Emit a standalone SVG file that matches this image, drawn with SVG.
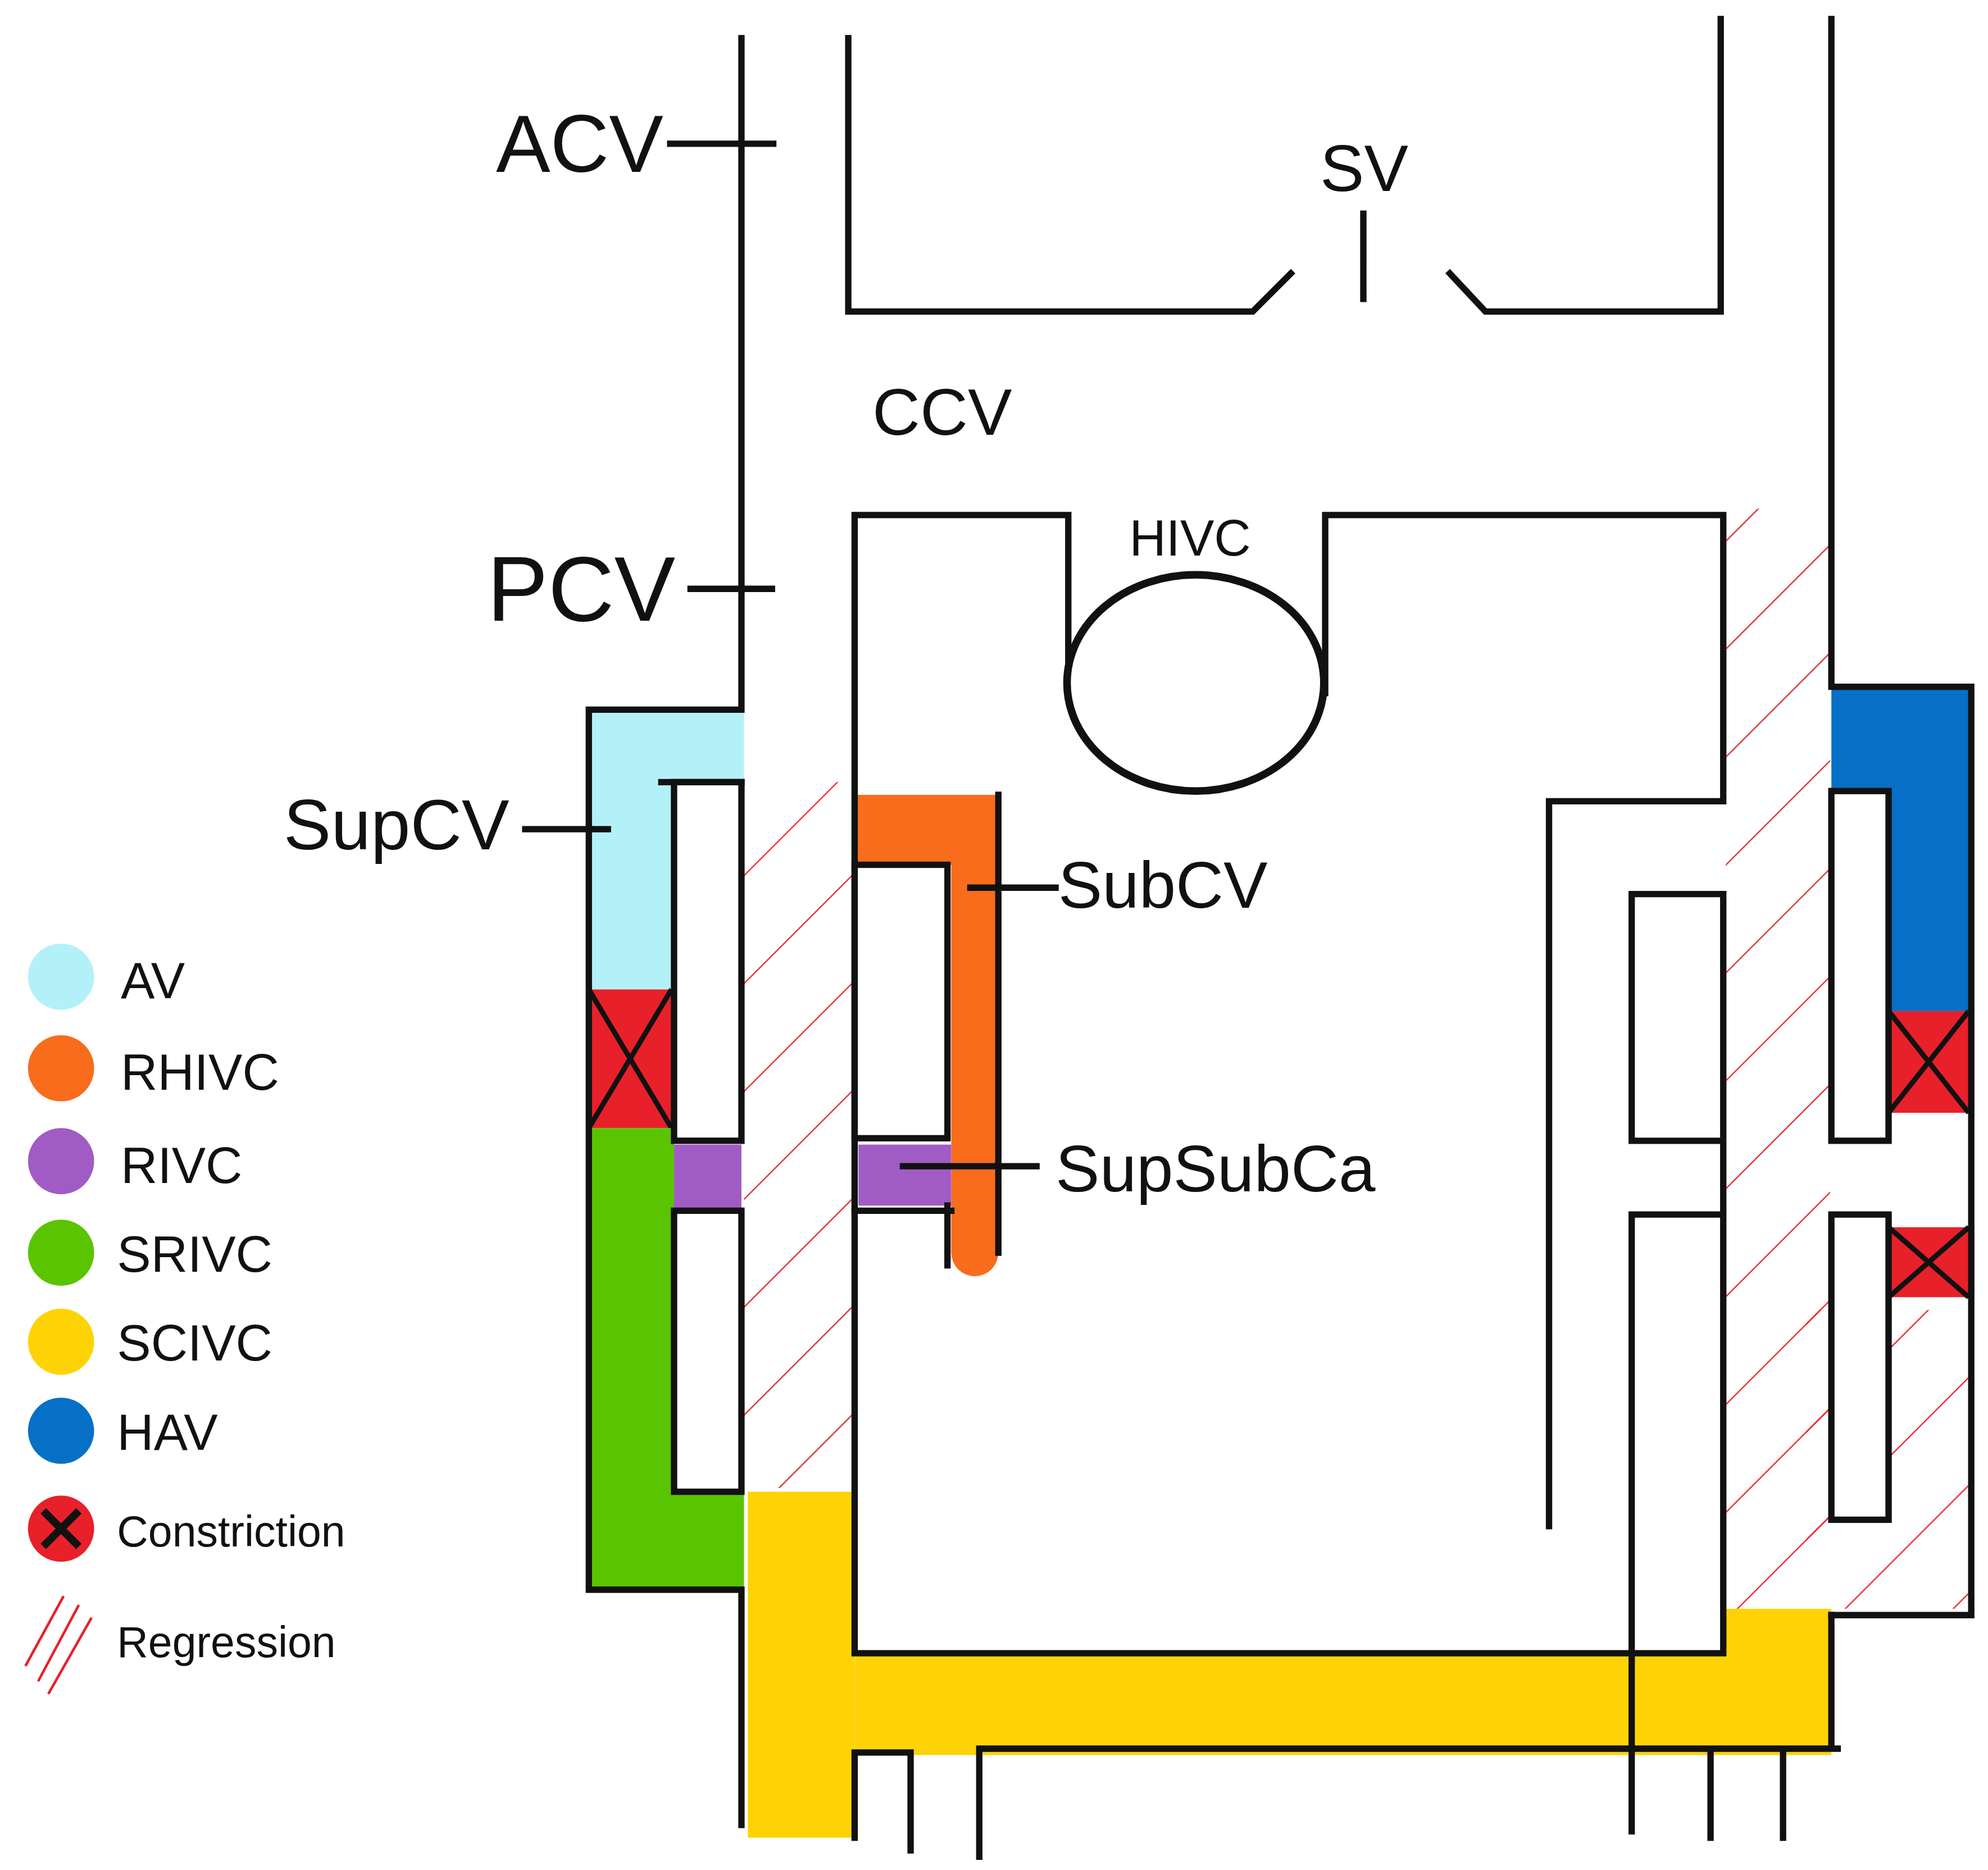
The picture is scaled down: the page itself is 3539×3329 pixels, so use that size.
<svg xmlns="http://www.w3.org/2000/svg" width="3539" height="3329" viewBox="0 0 3539 3329">
<style>
.w{fill:none;stroke:#111;stroke-width:5;stroke-linecap:square}
.r{fill:#fff;stroke:#111;stroke-width:5}
.t{font-family:"Liberation Sans",Arial,sans-serif;fill:#111}
.x{stroke:#111;stroke-width:4}
.h{stroke:#e8202a;stroke-width:2;fill:none}
</style>
<defs>
<pattern id="hatch" patternUnits="userSpaceOnUse" width="60" height="60" patternTransform="rotate(-45)">
<line x1="0" y1="0" x2="60" y2="0" class="h"/>
</pattern>
</defs>
<rect width="3539" height="3329" fill="#fff"/>
<g transform="scale(2.264)">
<g id="hatching">
<rect x="585" y="615" width="86" height="555" fill="url(#hatch)"/>
<rect x="1357" y="400" width="82" height="865" fill="url(#hatch)"/>
<rect x="1420" y="1030" width="128" height="235" fill="url(#hatch)"/>
</g>
<g id="fills">
<rect x="463" y="558" width="122" height="220" fill="#b3f1f9"/>
<rect x="463" y="778" width="65" height="109" fill="#e8202a"/>
<line x1="463" y1="778" x2="528" y2="887" class="x"/><line x1="528" y1="778" x2="463" y2="887" class="x"/>
<rect x="463" y="887" width="67" height="363" fill="#5ac400"/>
<rect x="463" y="1173" width="122" height="77" fill="#5ac400"/>
<rect x="530" y="900" width="53" height="50" fill="#a05cc4"/>
<rect x="588" y="1173" width="84" height="272" fill="#fed306"/>
<rect x="672" y="1300" width="768" height="80" fill="#fed306"/>
<rect x="1355" y="1265" width="85" height="40" fill="#fed306"/>
<path d="M672 625H785V985a18 18 0 0 1-37 0V680H672Z" fill="#f86c1c"/>
<rect x="675" y="900" width="73" height="48" fill="#a05cc4"/>
<rect x="1440" y="540" width="110" height="255" fill="#0670c6"/>
<rect x="1485" y="795" width="63" height="80" fill="#e8202a"/>
<line x1="1485" y1="795" x2="1548" y2="875" class="x"/><line x1="1548" y1="795" x2="1485" y2="875" class="x"/>
<rect x="1485" y="965" width="63" height="55" fill="#e8202a"/>
<line x1="1485" y1="965" x2="1548" y2="1020" class="x"/><line x1="1548" y1="965" x2="1485" y2="1020" class="x"/>
</g>
<g id="walls">
<path class="w" d="M583 30V558H463V1250H583V1435"/>
<rect class="r" x="530" y="615" width="53" height="282"/>
<line class="w" x1="520" y1="615" x2="583" y2="615"/>
<rect class="r" x="530" y="952" width="53" height="221"/>
<path class="w" d="M672 1445V1378H716V1455M770 1460V1375H1445M1345 1375V1445M1402 1375V1445M1440 1270V1375"/>
<path class="w" d="M672 1300V405H840V520M1042 545V405H1355V630H1218V1200M672 1300H1355V703H1283V897H1355M1355 955H1283V1440"/>
<ellipse cx="940" cy="537" rx="101" ry="85" fill="none" stroke="#111" stroke-width="6"/>
<path class="w" d="M785 625V985M745 948V995M672 952H748"/>
<rect class="r" x="672" y="680" width="73" height="215"/>
<path class="w" d="M1440 15V540H1550V1270H1440"/>
<rect class="r" x="1440" y="622" width="45" height="275"/>
<rect class="r" x="1440" y="955" width="45" height="240"/>
<path class="w" d="M667 30V245H985L1015 215M1072 168V235M1140 215L1168 245H1353V15"/>
<path class="w" d="M527 113H608M543 463H607M413 652H478M763 698H830M710 917H815"/>
</g>
<g id="labels" class="t">
<text class="t" x="390" y="135" font-size="64">ACV</text>
<text class="t" x="383" y="488" font-size="72">PCV</text>
<text class="t" x="1038" y="150" font-size="52">SV</text>
<text class="t" x="686" y="342" font-size="52">CCV</text>
<text class="t" x="888" y="437" font-size="40">HIVC</text>
<text class="t" x="223" y="668" font-size="56">SupCV</text>
<text class="t" x="832" y="714" font-size="52">SubCV</text>
<text class="t" x="830" y="937" font-size="52">SupSubCa</text>
</g>
<g id="legend">
<circle cx="48" cy="768" r="26" fill="#b3f1f9"/>
<circle cx="48" cy="840" r="26" fill="#f86c1c"/>
<circle cx="48" cy="913" r="26" fill="#a05cc4"/>
<circle cx="48" cy="985" r="26" fill="#5ac400"/>
<circle cx="48" cy="1055" r="26" fill="#fed306"/>
<circle cx="48" cy="1125" r="26" fill="#0670c6"/>
<circle cx="48" cy="1202" r="26" fill="#e8202a"/>
<path d="M34 1188L62 1216M62 1188L34 1216" stroke="#111" stroke-width="6"/>
<path d="M20 1310L50 1255M30 1322L62 1262M38 1332L72 1272" class="h" stroke-width="3"/>
<g class="t" font-size="40">
<text class="t" x="95" y="785">AV</text>
<text class="t" x="95" y="857">RHIVC</text>
<text class="t" x="95" y="930">RIVC</text>
<text class="t" x="92" y="1000">SRIVC</text>
<text class="t" x="92" y="1070">SCIVC</text>
<text class="t" x="92" y="1140">HAV</text>
<text class="t" x="92" y="1216" font-size="34">Constriction</text>
<text class="t" x="92" y="1303" font-size="34">Regression</text>
</g>
</g>
</g>
</svg>
